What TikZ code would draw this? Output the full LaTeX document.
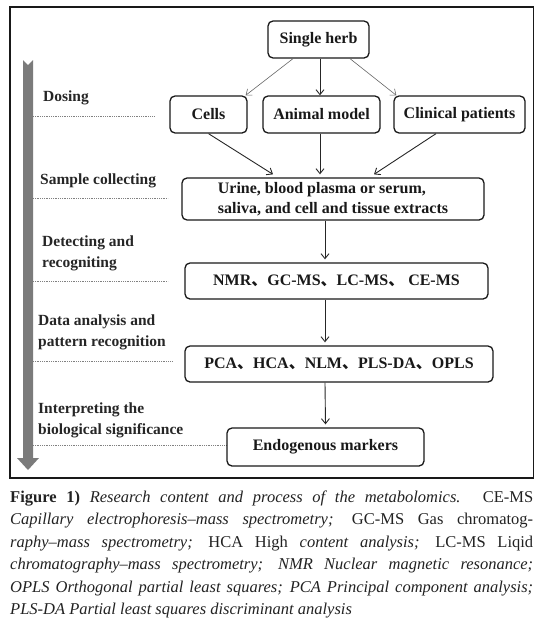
\documentclass[tikz,border=0pt]{standalone}
\usepackage{fontspec}
\setmainfont{Liberation Serif}
\newfontfamily\cjk{Noto Sans CJK SC}
\usetikzlibrary{arrows.meta,calc}
\definecolor{bigarrow}{HTML}{7B7B7B}
\definecolor{captxt}{HTML}{222222}
\tikzset{
  box/.style={draw=black!90, line width=1.3pt, rounded corners=5pt, inner sep=0pt, align=center,
    font=\bfseries\fontsize{16}{20}\selectfont, text=black!90},
  lbl/.style={anchor=west, inner sep=0pt, align=left, font=\bfseries\fontsize{15.5}{21}\selectfont, text=black!85},
  sep/.style={draw=black!50, line width=0.7pt, dash pattern=on 1pt off 0.8pt},
  thinarr/.style={draw=black!60, line width=0.6pt, -{Straight Barb[length=5pt,width=8pt]}},
  flow/.style={draw=black!85, line width=0.9pt, -{Straight Barb[length=5pt,width=8pt]}},
  captline/.style={anchor=base west, inner sep=0pt, text=captxt, font=\fontsize{16.5}{22}\selectfont},
}
\newcommand{\ck}{{\cjk 、}}
\begin{document}
\begin{tikzpicture}[x=1pt,y=-1pt]
\useasboundingbox (0,0) rectangle (536,627);
% frame
\draw[line width=1.2pt, black!90] (10,7) rectangle (533.5,478);
% big gray arrow
\fill[bigarrow] (23,60) -- (28,65) -- (33,60) -- (33,458) -- (39,458) -- (28,470) -- (17,458) -- (23,458) -- cycle;
% separators
\draw[sep] (33,116) -- (154,116);
\draw[sep] (33,198) -- (168,198);
\draw[sep] (33,281) -- (168,281);
\draw[sep] (33,361) -- (172,361);
\draw[sep] (33,445) -- (227,445);
% stage labels
\node[lbl] (l1) at (43,98) {Dosing};
\node[lbl] (l2) at (40,181) {Sample collecting};
\node[lbl] (l3) at (42,253.5) {Detecting and\\recogniting};
\node[lbl] (l4) at (38,332.5) {Data analysis and\\pattern recognition};
\node[lbl] (l5) at (38,420.5) {Interpreting the\\biological significance};
% boxes
\node[box, minimum width=101pt, minimum height=37pt] (herb) at (318.5,39.5) {Single herb};
\node[box, minimum width=77pt, minimum height=37pt] (cells) at (208.5,114.5) {Cells};
\node[box, minimum width=117pt, minimum height=37pt] (animal) at (321.5,114.5) {Animal model};
\node[box, minimum width=131pt, minimum height=37pt] (clin) at (459.5,114.5) {Clinical patients};
\node[box, minimum width=302pt, minimum height=42pt, align=left] (urine) at (333,199) {Urine, blood plasma or serum,\\saliva, and cell and tissue extracts};
\node[box, minimum width=303pt, minimum height=36pt] (nmr) at (336.5,281) {NMR\ck GC-MS\ck LC-MS\ck\ CE-MS};
\node[box, minimum width=308pt, minimum height=36pt] (pca) at (339,364) {PCA\ck HCA\ck NLM\ck PLS-DA\ck OPLS};
\node[box, minimum width=197pt, minimum height=38pt] (endo) at (325.5,447) {Endogenous markers};
% connectors
\draw[thinarr] ([xshift=-25.5pt]herb.south) -- ([xshift=-2pt]cells.north east);
\draw[flow] ([xshift=1.5pt]herb.south) -- ([xshift=-1.5pt]animal.north);
\draw[thinarr] ([xshift=31.5pt]herb.south) -- ([xshift=3pt]clin.north west);
\draw[flow] (cells.south) -- ([xshift=-60pt,yshift=3pt]urine.north);
\draw[flow] ([xshift=-1.5pt]animal.south) -- ([xshift=-13pt,yshift=3pt]urine.north);
\draw[flow] ([xshift=-23.5pt]clin.south) -- ([xshift=41pt,yshift=3pt]urine.north);
\draw[flow] ([xshift=-8pt]urine.south) -- ([xshift=-11.5pt,yshift=3pt]nmr.north);
\draw[flow] ([xshift=-11.5pt]nmr.south) -- ([xshift=-14pt,yshift=3pt]pca.north);
\draw[flow] ([xshift=-14pt]pca.south) -- ([xshift=0pt,yshift=3pt]endo.north);
% caption
\node[captline] (c1) at (10,502) {\hbox to 523pt{\textbf{Figure 1)} \textit{Research content and process of the metabolomics.} CE-MS}};
\node[captline] (c2) at (10,524.5) {\hbox to 523pt{\textit{Capillary electrophoresis–mass spectrometry;} GC-MS Gas chromatog-}};
\node[captline] (c3) at (10,547) {\hbox to 523pt{\textit{raphy–mass spectrometry;} HCA High \textit{content analysis;} LC-MS Liqid}};
\node[captline] (c4) at (10,569.5) {\hbox to 523pt{\textit{chromatography–mass spectrometry; NMR Nuclear magnetic resonance;}}};
\node[captline] (c5) at (10,592) {\hbox to 523pt{\textit{OPLS Orthogonal partial least squares; PCA Principal component analysis;}}};
\node[captline] (c6) at (10,614.5) {\textit{PLS-DA Partial least squares discriminant analysis}};
\end{tikzpicture}
\end{document}
